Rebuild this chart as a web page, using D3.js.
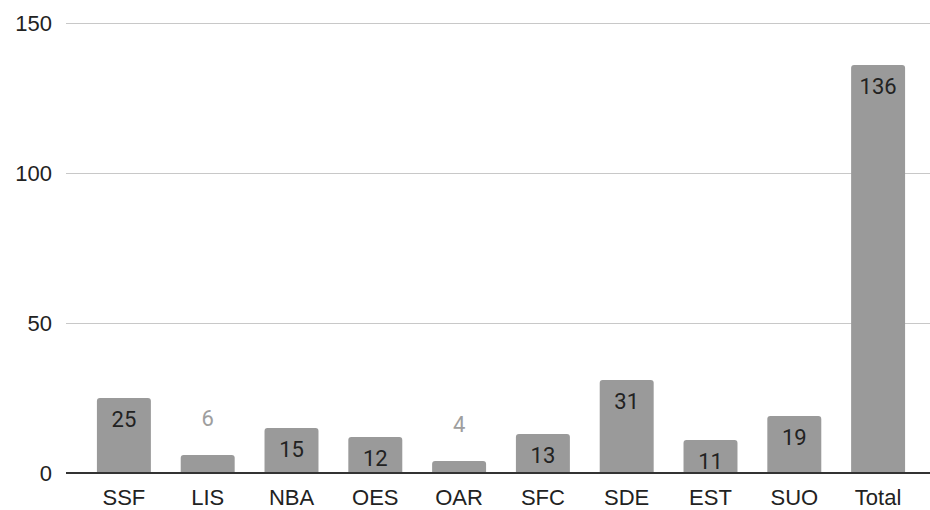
<!DOCTYPE html>
<html>
<head>
<meta charset="utf-8">
<script src="https://cdn.jsdelivr.net/npm/d3@7"></script>
<style>
  body { margin: 0; background: #fff; }
  .axis-label { font-family: "Liberation Sans", Arial, sans-serif; }
  .data-label { font-family: Roboto, "Noto Sans", sans-serif; }
</style>
</head>
<body>
<div id="chart"></div>
<script>
const categories = ["SSF", "LIS", "NBA", "OES", "OAR", "SFC", "SDE", "EST", "SUO", "Total"];
const values = [25, 6, 15, 12, 4, 13, 31, 11, 19, 136];
const yTicks = [0, 50, 100, 150];

const width = 930, height = 510;

const svg = d3.select("#chart")
  .append("svg")
  .attr("width", width)
  .attr("height", height);

// scales
const x = d3.scaleBand()
  .domain(categories)
  .range([82, 920])
  .paddingInner(0.356)
  .paddingOuter(0.178);

const y = d3.scaleLinear()
  .domain([0, 150])
  .range([473, 23]);

// gridlines
svg.append("g")
  .selectAll("line")
  .data(yTicks.filter(d => d !== 0))
  .join("line")
    .attr("x1", 66)
    .attr("x2", 930)
    .attr("y1", d => y(d) + 0.5)
    .attr("y2", d => y(d) + 0.5)
    .attr("stroke", "#c8c8c8")
    .attr("stroke-width", 1);

// y tick labels
svg.append("g")
  .selectAll("text")
  .data(yTicks)
  .join("text")
    .attr("class", "axis-label")
    .attr("x", 52)
    .attr("y", d => y(d) + 8)
    .attr("text-anchor", "end")
    .attr("font-size", "22px")
    .attr("fill", "#222")
    .text(d => d);

// bars with rounded top corners
function barPath(d, i) {
  const x0 = x(categories[i]), w = x.bandwidth();
  const y0 = y(d), y1 = y(0);
  const r = Math.min(3, (y1 - y0) / 2);
  return `M${x0},${y1} V${y0 + r} Q${x0},${y0} ${x0 + r},${y0} H${x0 + w - r} Q${x0 + w},${y0} ${x0 + w},${y0 + r} V${y1} Z`;
}

svg.append("g")
  .selectAll("path")
  .data(values)
  .join("path")
    .attr("d", barPath)
    .attr("fill", "#9a9a9a");

// zero axis line
svg.append("line")
  .attr("x1", 66)
  .attr("x2", 930)
  .attr("y1", y(0))
  .attr("y2", y(0))
  .attr("stroke", "#333")
  .attr("stroke-width", 2);

// data labels: inside when the bar is tall enough, otherwise above in grey
const inside = d => y(0) - y(d) > 25;
svg.append("g")
  .selectAll("text")
  .data(values)
  .join("text")
    .attr("class", "data-label")
    .attr("x", (d, i) => x(categories[i]) + x.bandwidth() / 2)
    .attr("y", d => inside(d) ? y(d) + 28.5 : y(d) - 29)
    .attr("text-anchor", "middle")
    .attr("font-size", "22px")
    .attr("fill", d => inside(d) ? "#222" : "#9e9e9e")
    .text(d => d);

// x labels
svg.append("g")
  .selectAll("text")
  .data(categories)
  .join("text")
    .attr("class", "axis-label")
    .attr("x", d => x(d) + x.bandwidth() / 2)
    .attr("y", 505)
    .attr("text-anchor", "middle")
    .attr("font-size", "22px")
    .attr("fill", "#222")
    .text(d => d);
</script>
</body>
</html>
